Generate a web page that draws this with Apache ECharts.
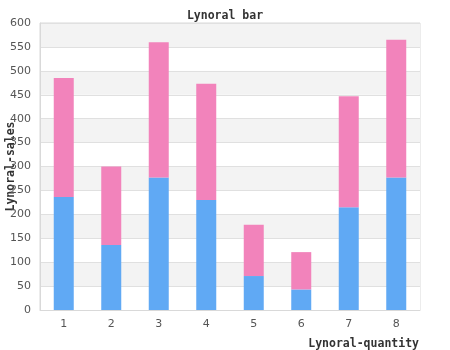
<!DOCTYPE html>
<html>
<head>
<meta charset="utf-8">
<script src="https://cdn.jsdelivr.net/npm/echarts@6/dist/echarts.min.js"></script>
<style>html,body{margin:0;padding:0;background:#fff;}#chart{width:450px;height:350px;}</style>
</head>
<body>
<div id="chart"></div>
<script>
var categories = ['1', '2', '3', '4', '5', '6', '7', '8'];
var blueValues = [236, 136, 277, 230, 71, 43, 215, 277];
var pinkValues = [249, 164, 283, 243, 107, 78, 232, 288];
var titleText = 'Lynoral bar';
var xName = 'Lynoral-quantity';
var yName = 'Lynoral-sales';

var mono = '"DejaVu Sans Mono", monospace';
var sans = '"DejaVu Sans", sans-serif';
var chart = echarts.init(document.getElementById('chart'), null, {renderer: 'canvas'});
chart.setOption({
  animation: false,
  title: {
    text: titleText, left: 'center', top: 5,
    textStyle: {fontFamily: mono, fontSize: 11.5, fontWeight: 'bold', color: '#333'}
  },
  grid: {left: 40, right: 30, top: 23, bottom: 40, show: true, borderColor: '#d9d9d9', borderWidth: 1, containLabel: false, outerBoundsMode: 'none'},
  xAxis: {
    type: 'category', data: categories,
    name: xName, nameLocation: 'end', nameGap: -1, nameMoveOverlap: false,
    nameTextStyle: {fontFamily: mono, fontSize: 11.5, fontWeight: 'bold', color: '#333', align: 'right', verticalAlign: 'top', padding: [28, 0, 0, 0]},
    axisLine: {show: true, lineStyle: {color: '#d9d9d9'}},
    axisTick: {show: false},
    axisLabel: {fontFamily: sans, fontSize: 11, color: '#555', margin: 9},
    splitLine: {show: false}
  },
  yAxis: {
    type: 'value', min: 0, max: 600, interval: 50,
    name: yName, nameLocation: 'middle', nameGap: 23, nameRotate: 90, nameMoveOverlap: false,
    nameTextStyle: {fontFamily: mono, fontSize: 11.5, fontWeight: 'bold', color: '#333'},
    axisLine: {show: true, lineStyle: {color: '#d9d9d9'}},
    axisTick: {show: false},
    axisLabel: {fontFamily: sans, fontSize: 11, color: '#555', margin: 9},
    splitLine: {show: true, lineStyle: {color: '#e0e0e0'}},
    splitArea: {show: true, areaStyle: {color: ['#ffffff', '#f3f3f3']}}
  },
  series: [
    {type: 'bar', stack: 's', data: blueValues, barWidth: 20, itemStyle: {color: '#60a9f4'}},
    {type: 'bar', stack: 's', data: pinkValues, barWidth: 20, itemStyle: {color: '#f283bb'}}
  ]
});
</script>
</body>
</html>
